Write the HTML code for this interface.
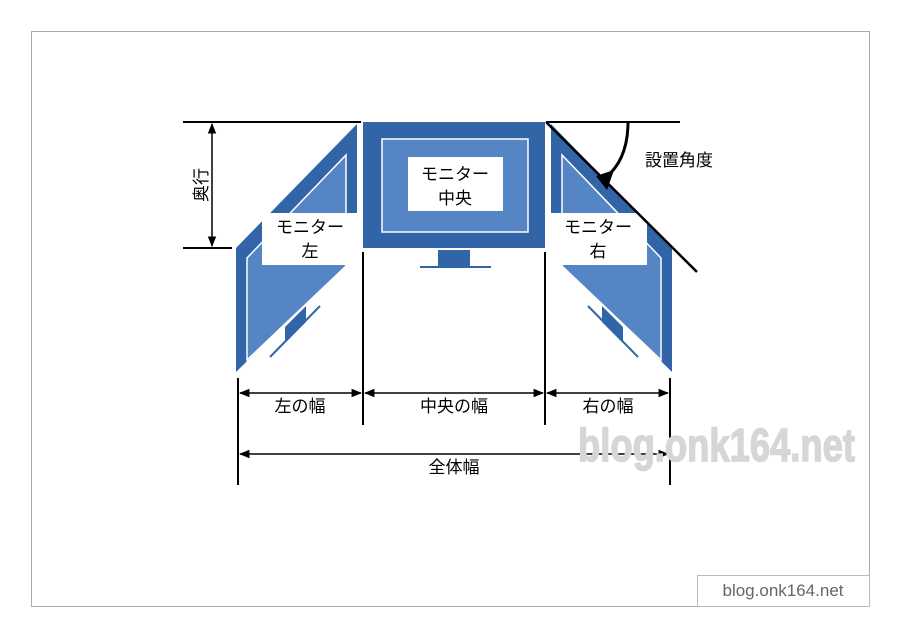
<!DOCTYPE html>
<html><head><meta charset="utf-8"><style>
html,body{margin:0;padding:0;background:#fff;width:900px;height:636px;overflow:hidden}
svg text{font-family:"Liberation Sans","Noto Sans CJK JP",sans-serif}
</style></head><body>
<svg width="900" height="636" viewBox="0 0 900 636" xmlns="http://www.w3.org/2000/svg">
<defs>
<marker id="a" viewBox="0 0 10 10" refX="9" refY="5" markerWidth="7" markerHeight="7" orient="auto-start-reverse"><path d="M0,1 L10,5 L0,9 z" fill="#000"/></marker>
</defs>
<rect x="31.5" y="31.5" width="838" height="575" fill="#fff" stroke="#aaa"/>
<!-- center monitor -->
<rect x="363" y="122" width="182" height="126" fill="#3264a8"/>
<rect x="382" y="139" width="146" height="93" fill="#5585c4" stroke="#fff" stroke-width="1.5"/>
<rect x="408" y="157" width="95" height="54" fill="#fff"/>
<text x="455" y="180" font-size="17" text-anchor="middle">モニター</text>
<text x="455" y="204" font-size="17" text-anchor="middle">中央</text>
<rect x="438" y="250" width="32" height="17" fill="#3264a8"/>
<line x1="420" y1="267" x2="491" y2="267" stroke="#3264a8" stroke-width="2"/>
<!-- left monitor -->
<polygon points="236,248 357,124 357,253 236,372" fill="#3264a8"/>
<polygon points="247,258 346,155 346,266 247,360" fill="#5585c4" stroke="#fff" stroke-width="1.5"/>
<polygon points="285,327 306,306 306,322 285,343" fill="#3264a8"/>
<line x1="270" y1="357" x2="320" y2="306" stroke="#3264a8" stroke-width="2"/>
<rect x="262" y="213" width="97" height="52" fill="#fff"/>
<text x="310" y="233" font-size="17" text-anchor="middle">モニター</text>
<text x="310" y="257" font-size="17" text-anchor="middle">左</text>
<!-- right monitor -->
<polygon points="672,248 551,124 551,253 672,372" fill="#3264a8"/>
<polygon points="661,258 562,155 562,266 661,360" fill="#5585c4" stroke="#fff" stroke-width="1.5"/>
<polygon points="623,327 602,306 602,322 623,343" fill="#3264a8"/>
<line x1="638" y1="357" x2="588" y2="306" stroke="#3264a8" stroke-width="2"/>
<rect x="550" y="213" width="97" height="52" fill="#fff"/>
<text x="598" y="233" font-size="17" text-anchor="middle">モニター</text>
<text x="598" y="257" font-size="17" text-anchor="middle">右</text>
<!-- angle -->
<line x1="546" y1="122" x2="680" y2="122" stroke="#000" stroke-width="2"/>
<line x1="546" y1="122" x2="697" y2="272" stroke="#000" stroke-width="2.5"/>
<path d="M628,122 Q628,160 605,178" fill="none" stroke="#000" stroke-width="3"/>
<polygon points="596,176 614,170 607,190" fill="#000"/>
<text x="645" y="166" font-size="17">設置角度</text>
<!-- depth -->
<line x1="183" y1="122" x2="361" y2="122" stroke="#000" stroke-width="2"/>
<line x1="183" y1="248" x2="232" y2="248" stroke="#000" stroke-width="2"/>
<line x1="212" y1="124" x2="212" y2="246" stroke="#000" stroke-width="1.5" marker-start="url(#a)" marker-end="url(#a)"/>
<text x="0" y="0" font-size="17" text-anchor="middle" transform="translate(207,185) rotate(-90)">奥行</text>
<!-- widths -->
<g stroke="#000" stroke-width="2">
<line x1="238" y1="378" x2="238" y2="485"/>
<line x1="363" y1="252" x2="363" y2="425"/>
<line x1="545" y1="252" x2="545" y2="425"/>
<line x1="670" y1="378" x2="670" y2="485"/>
</g>
<g stroke="#000" stroke-width="1.5">
<line x1="240" y1="393" x2="361" y2="393" marker-start="url(#a)" marker-end="url(#a)"/>
<line x1="365" y1="393" x2="543" y2="393" marker-start="url(#a)" marker-end="url(#a)"/>
<line x1="547" y1="393" x2="668" y2="393" marker-start="url(#a)" marker-end="url(#a)"/>
<line x1="240" y1="454" x2="668" y2="454" marker-start="url(#a)" marker-end="url(#a)"/>
</g>
<text x="300" y="412" font-size="17" text-anchor="middle">左の幅</text>
<text x="454" y="412" font-size="17" text-anchor="middle">中央の幅</text>
<text x="608" y="412" font-size="17" text-anchor="middle">右の幅</text>
<text x="454" y="473" font-size="17" text-anchor="middle">全体幅</text>
<!-- watermark -->
<text x="578" y="461" font-size="46" font-weight="bold" fill="#d6d6d6" stroke="#d6d6d6" stroke-width="1.5" textLength="277" lengthAdjust="spacingAndGlyphs">blog.onk164.net</text>
<rect x="697.5" y="575.5" width="172" height="31" fill="#fff" stroke="#bbb"/>
<text x="783" y="596" font-size="17" fill="#666" text-anchor="middle">blog.onk164.net</text>
</svg>
</body></html>
